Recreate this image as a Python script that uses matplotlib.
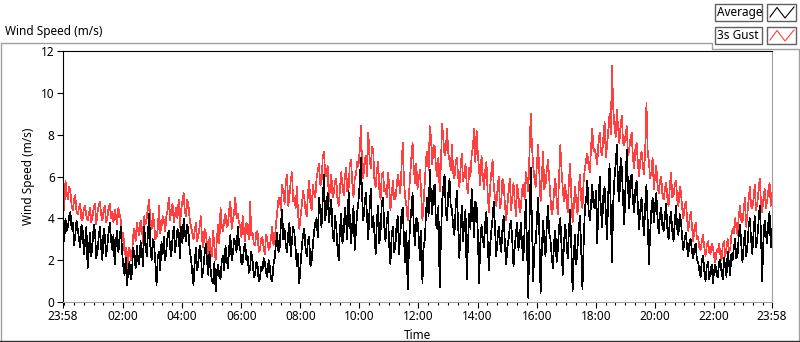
"""Wind speed chart: average and 3 s gust over one day (LabVIEW style)."""
import matplotlib
matplotlib.use("Agg")
import matplotlib.pyplot as plt
from matplotlib.lines import Line2D
from matplotlib.patches import Rectangle
import numpy as np

# 2.5-minute samples starting at 23:58 (m/s)
avg = [
    # 23:58 - 02:00
    3.3, 2.9, 4.0, 3.4, 3.6, 4.1, 4.3, 3.5, 3.8, 2.7, 3.2, 3.9, 3.5, 3.0, 2.6, 3.7,
    3.4, 2.3, 2.9, 3.6, 1.6, 2.5, 3.3, 2.2, 2.8, 3.7, 3.4, 2.1, 2.4, 3.1, 3.6, 2.6,
    2.0, 3.5, 3.2, 2.2, 2.7, 3.3, 3.8, 3.0, 2.5, 3.2, 1.8, 2.9, 3.4, 2.4, 3.0, 3.6,
    # 02:00 - 04:00
    2.4, 1.7, 1.3, 2.1, 0.8, 1.5, 1.9, 1.1, 1.4, 2.6, 2.3, 1.6, 2.7, 2.0, 1.8, 2.9,
    2.5, 1.7, 3.6, 2.8, 2.2, 3.3, 4.2, 2.6, 2.0, 3.0, 2.8, 1.9, 0.8, 2.2, 2.4, 1.5,
    2.9, 2.3, 3.1, 2.0, 2.5, 3.2, 3.4, 2.6, 2.2, 3.1, 3.6, 2.4, 2.9, 3.5, 3.3, 2.1,
    # 04:00 - 06:00
    3.6, 2.8, 4.0, 3.3, 2.9, 3.7, 3.3, 2.4, 2.1, 1.4, 0.8, 1.9, 2.6, 1.5, 1.9, 2.7,
    2.4, 1.2, 1.6, 2.3, 2.8, 2.0, 1.3, 2.4, 1.5, 1.0, 0.9, 1.9, 0.5, 1.4, 1.8, 1.2,
    1.1, 2.0, 2.2, 1.5, 2.7, 2.1, 1.6, 2.6, 3.2, 2.0, 2.3, 3.0, 2.9, 2.4, 3.6, 2.8,
    # 06:00 - 08:00
    2.5, 1.8, 1.9, 2.6, 2.8, 2.0, 2.2, 1.4, 1.6, 2.4, 2.0, 1.2, 1.3, 1.9, 1.8, 1.0,
    1.1, 1.7, 1.5, 2.1, 1.9, 1.4, 1.2, 2.0, 1.7, 1.1, 1.0, 1.8, 2.1, 2.8, 3.3, 2.4,
    2.6, 3.7, 4.4, 3.0, 3.5, 2.7, 2.4, 3.3, 3.8, 2.2, 2.9, 3.6, 3.3, 2.5, 1.7, 2.3,
    # 08:00 - 10:00
    0.9, 1.8, 2.6, 3.2, 3.5, 2.6, 2.2, 2.9, 3.1, 1.7, 2.0, 2.7, 3.4, 3.8, 4.0, 3.1,
    5.0, 4.3, 3.6, 4.8, 6.1, 3.9, 4.5, 5.2, 3.8, 4.4, 4.9, 3.3, 2.9, 4.1, 3.6, 2.6,
    2.0, 3.5, 4.2, 2.8, 3.3, 4.5, 3.9, 3.0, 5.3, 4.1, 2.8, 3.7, 4.6, 2.5, 3.4, 4.3,
    # 10:00 - 12:00
    4.8, 5.6, 6.9, 5.0, 3.9, 4.6, 5.2, 4.1, 3.0, 4.4, 5.4, 3.6, 4.1, 3.3, 2.3, 3.9,
    4.6, 2.8, 3.4, 4.7, 5.0, 3.6, 2.9, 3.8, 4.3, 2.7, 1.8, 3.2, 3.6, 2.4, 2.6, 3.7,
    4.1, 2.3, 3.2, 4.2, 4.5, 3.0, 1.9, 3.4, 0.6, 2.4, 3.8, 4.4, 5.2, 3.5, 2.7, 4.0,
    # 12:00 - 14:00
    3.9, 3.1, 2.0, 3.4, 0.9, 2.6, 3.0, 4.4, 5.0, 4.1, 6.3, 5.0, 4.2, 5.5, 5.6, 3.7,
    3.5, 4.6, 0.7, 2.9, 4.8, 5.5, 6.1, 4.3, 3.9, 5.2, 5.9, 4.6, 4.4, 3.6, 3.2, 4.5,
    5.3, 3.7, 2.1, 3.5, 4.6, 2.9, 3.8, 4.4, 1.1, 2.8, 4.2, 3.5, 5.4, 4.3, 3.1, 4.8,
    # 14:00 - 16:00
    4.6, 3.3, 0.9, 2.8, 3.7, 3.1, 2.6, 3.8, 4.3, 2.9, 1.5, 2.7, 3.4, 4.0, 4.8, 3.5,
    2.2, 3.0, 3.6, 2.9, 2.4, 3.5, 4.1, 2.8, 1.8, 2.6, 3.0, 3.6, 3.9, 2.9, 1.7, 2.6,
    3.3, 3.8, 2.5, 3.0, 3.8, 2.7, 2.0, 3.5, 4.9, 2.6, 0.2, 3.9, 6.4, 3.7, 1.0, 2.8,
    # 16:00 - 18:00
    2.8, 3.9, 5.0, 3.2, 0.4, 2.5, 3.9, 2.9, 2.2, 3.6, 4.6, 3.3, 3.0, 2.2, 1.6, 2.9,
    3.4, 1.9, 2.5, 3.6, 4.0, 2.6, 1.3, 2.8, 3.7, 3.0, 2.1, 3.4, 4.4, 2.6, 0.5, 2.3,
    3.2, 1.8, 2.6, 3.5, 4.1, 2.5, 0.6, 2.8, 4.5, 4.9, 5.8, 4.4, 3.9, 4.7, 5.6, 4.6,
    # 18:00 - 20:00
    4.5, 5.3, 2.8, 4.6, 6.0, 4.4, 3.6, 5.1, 5.5, 4.2, 3.0, 5.2, 6.6, 4.5, 1.9, 4.7,
    5.9, 6.6, 7.5, 5.4, 4.8, 6.9, 6.4, 4.9, 3.7, 5.6, 7.3, 5.5, 4.5, 5.9, 6.1, 4.9,
    4.3, 5.4, 5.8, 4.6, 3.5, 4.4, 5.0, 4.0, 3.2, 4.6, 5.6, 3.9, 1.8, 3.3, 4.4, 5.0,
    # 20:00 - 22:00
    3.8, 4.6, 5.2, 4.0, 3.3, 4.2, 4.5, 3.6, 3.4, 4.1, 4.7, 3.5, 3.0, 3.9, 4.3, 3.4,
    2.9, 3.8, 4.6, 3.5, 3.2, 4.2, 3.9, 3.1, 2.5, 3.0, 3.3, 2.6, 2.2, 2.9, 3.0, 2.4,
    2.1, 2.6, 2.8, 2.0, 1.9, 1.5, 1.2, 2.0, 2.2, 1.5, 1.0, 1.7, 1.9, 1.1, 1.4, 1.8,
    # 22:00 - 23:58
    0.9, 1.5, 1.8, 1.3, 1.2, 1.9, 2.0, 1.4, 1.1, 2.1, 1.7, 1.2, 2.4, 1.9, 1.3, 2.3,
    2.0, 2.6, 3.0, 2.1, 2.2, 3.2, 3.7, 2.8, 1.9, 2.7, 3.4, 2.2, 2.6, 3.6, 4.0, 3.0,
    2.3, 3.3, 4.1, 2.6, 3.0, 3.8, 4.6, 3.4, 1.0, 2.9, 3.9, 3.3, 2.8, 3.8, 4.3, 2.6,
    3.5,
]
gust = [
    # 23:58 - 02:00
    5.0, 4.4, 5.8, 5.2, 4.9, 5.5, 5.3, 4.6, 4.4, 4.9, 5.1, 4.3, 4.2, 4.5, 4.7, 3.9,
    4.0, 4.5, 4.6, 4.1, 3.9, 4.2, 4.5, 3.8, 4.1, 4.5, 4.7, 3.7, 4.3, 4.6, 4.8, 4.2,
    3.9, 4.4, 4.6, 3.8, 4.0, 4.5, 4.7, 4.0, 4.3, 3.8, 4.4, 4.1, 3.7, 4.5, 4.2, 3.9,
    # 02:00 - 04:00
    2.9, 3.3, 2.3, 2.6, 1.3, 2.4, 2.6, 2.0, 2.1, 3.2, 3.5, 2.9, 3.8, 3.4, 3.2, 3.9,
    3.6, 2.8, 4.1, 3.7, 4.0, 4.5, 4.9, 3.7, 3.5, 4.2, 3.8, 3.0, 3.1, 3.5, 4.6, 3.3,
    3.6, 4.1, 3.9, 3.4, 4.1, 4.4, 5.0, 3.9, 4.4, 4.7, 3.8, 4.2, 4.5, 4.0, 4.9, 3.6,
    # 04:00 - 06:00
    4.4, 4.8, 5.2, 4.3, 4.1, 4.9, 4.6, 3.9, 3.6, 3.3, 3.0, 3.4, 3.8, 2.9, 3.2, 3.6,
    4.1, 3.0, 2.6, 3.5, 3.3, 2.7, 2.1, 3.1, 2.5, 2.2, 3.4, 2.6, 2.0, 3.0, 3.7, 2.8,
    4.5, 3.6, 3.4, 3.9, 4.2, 3.6, 3.7, 4.4, 4.8, 3.5, 3.9, 4.3, 5.0, 4.0, 4.2, 3.8,
    # 06:00 - 08:00
    3.6, 3.1, 4.1, 3.4, 2.9, 3.8, 3.5, 3.0, 4.8, 3.2, 3.3, 2.8, 2.7, 3.3, 3.4, 2.4,
    2.5, 3.0, 3.1, 2.6, 2.3, 3.2, 3.0, 2.5, 2.6, 3.1, 3.6, 2.7, 2.9, 3.7, 4.3, 4.9,
    5.0, 4.4, 5.6, 5.2, 4.7, 5.7, 6.1, 4.6, 5.1, 5.8, 6.2, 4.8, 5.0, 4.5, 5.5, 4.2,
    # 08:00 - 10:00
    3.5, 4.1, 4.6, 5.3, 5.0, 4.4, 4.1, 5.2, 5.8, 4.7, 4.4, 5.6, 5.2, 5.0, 5.9, 6.3,
    6.6, 5.6, 5.7, 6.9, 7.2, 6.1, 6.0, 6.5, 4.8, 5.5, 6.1, 5.0, 5.2, 5.8, 5.9, 4.9,
    4.6, 5.4, 6.2, 5.6, 5.1, 6.0, 6.4, 5.3, 5.4, 6.6, 6.8, 5.7, 5.0, 5.9, 6.1, 6.7,
    # 10:00 - 12:00
    6.5, 7.2, 8.4, 6.6, 5.9, 6.8, 7.0, 6.0, 8.1, 7.0, 6.4, 7.4, 7.3, 5.8, 5.5, 6.3,
    6.7, 5.4, 4.9, 6.1, 6.2, 5.3, 5.4, 5.0, 6.2, 5.6, 4.4, 5.1, 5.8, 4.9, 4.9, 5.5,
    6.1, 5.7, 5.2, 6.4, 7.6, 5.8, 5.0, 4.6, 3.9, 5.1, 6.0, 6.9, 7.6, 6.4, 5.7, 6.6,
    # 12:00 - 14:00
    5.4, 5.9, 6.3, 5.2, 3.9, 4.8, 5.8, 6.9, 7.2, 6.3, 8.4, 7.8, 6.6, 7.5, 7.4, 6.4,
    6.0, 6.9, 5.3, 6.6, 8.5, 7.8, 7.0, 7.3, 8.3, 7.1, 6.8, 6.3, 7.5, 6.2, 5.9, 6.7,
    6.9, 6.0, 5.5, 6.4, 7.1, 5.8, 6.1, 6.6, 5.6, 5.2, 6.4, 6.0, 7.0, 7.4, 8.3, 6.7,
    # 14:00 - 16:00
    8.2, 7.1, 6.3, 5.6, 7.0, 6.1, 5.4, 6.3, 6.7, 5.2, 4.3, 5.5, 6.2, 6.8, 5.5, 5.0,
    4.6, 5.4, 6.0, 4.5, 4.8, 5.9, 5.6, 4.7, 3.9, 4.6, 5.3, 5.9, 4.4, 5.0, 5.7, 4.8,
    4.1, 5.6, 5.1, 4.3, 4.5, 5.4, 5.6, 4.9, 6.2, 5.8, 5.3, 7.1, 9.0, 7.4, 6.5, 5.9,
    # 16:00 - 18:00
    5.5, 6.6, 7.5, 6.2, 4.8, 5.9, 7.2, 5.4, 5.6, 6.3, 6.8, 5.9, 5.0, 4.2, 4.5, 5.3,
    5.9, 4.9, 4.2, 6.0, 7.5, 6.3, 5.4, 4.8, 5.6, 4.9, 4.3, 5.8, 6.6, 5.0, 3.8, 4.6,
    5.5, 4.8, 4.2, 5.4, 6.1, 4.9, 4.5, 5.8, 6.4, 6.8, 7.1, 6.5, 6.2, 7.4, 8.3, 7.2,
    # 18:00 - 20:00
    7.3, 7.0, 6.6, 7.6, 8.1, 7.2, 7.0, 7.9, 8.6, 6.9, 7.5, 8.2, 9.0, 8.0, 11.3, 9.3,
    8.4, 7.9, 9.2, 8.3, 7.6, 8.5, 8.9, 7.6, 7.5, 8.0, 8.4, 7.0, 7.3, 7.8, 8.1, 6.9,
    6.4, 7.3, 7.6, 6.7, 6.0, 6.8, 7.2, 6.6, 6.1, 7.3, 9.5, 7.2, 6.7, 5.9, 6.2, 6.9,
    # 20:00 - 22:00
    5.4, 6.0, 6.5, 5.6, 5.2, 5.8, 6.0, 5.1, 4.9, 5.4, 5.7, 5.0, 4.6, 5.5, 6.2, 5.0,
    5.1, 5.6, 5.8, 4.9, 4.6, 5.5, 5.3, 4.5, 4.0, 4.6, 4.8, 4.0, 3.4, 3.9, 4.3, 3.6,
    2.9, 3.5, 3.8, 3.0, 3.1, 2.6, 2.5, 2.9, 3.2, 2.6, 2.2, 2.7, 2.9, 2.4, 2.3, 2.8,
    # 22:00 - 23:58
    2.6, 2.2, 1.9, 2.5, 2.4, 2.8, 2.3, 2.0, 2.7, 2.9, 2.2, 2.6, 3.0, 2.4, 2.5, 3.2,
    3.5, 3.3, 4.0, 3.6, 3.2, 4.1, 4.6, 3.9, 3.8, 4.4, 5.0, 3.6, 4.2, 4.9, 5.5, 4.6,
    4.5, 4.9, 5.6, 4.4, 4.7, 5.3, 5.9, 4.8, 4.3, 4.9, 5.4, 4.5, 4.8, 5.3, 5.7, 4.6,
    5.2,
]
step_min = 2.5
tick_min = [0, 122, 242, 362, 482, 602, 722, 842, 962, 1082, 1202, 1322, 1440]
tick_lab = ["23:58", "02:00", "04:00", "06:00", "08:00", "10:00", "12:00",
            "14:00", "16:00", "18:00", "20:00", "22:00", "23:58"]

W, H = 800, 342
plt.rcParams["font.family"] = ["Noto Sans", "DejaVu Sans"]
fig = plt.figure(figsize=(W / 100, H / 100), dpi=100)


def px(x, y):
    return x / W, 1 - y / H


ax = fig.add_axes([63 / W, 1 - 302 / H, (772 - 63) / W, (302 - 51) / H])
t_avg = np.arange(len(avg)) * step_min
t_gust = np.arange(len(gust)) * step_min
# LabVIEW draws plain 1-pixel lines, so no antialiasing
ax.plot(t_gust, gust, color="#ff4040", lw=0.5, antialiased=False)
ax.plot(t_avg, avg, color="black", lw=0.5, antialiased=False)

ax.set_xlim(0, 1440)
ax.set_ylim(0, 12)
ax.set_xticks(tick_min)
ax.set_xticklabels(tick_lab)
ax.set_xticks(np.arange(2, 1440, 20), minor=True)
ax.set_yticks(range(0, 13, 2))
ax.tick_params(axis="both", which="major", length=4, width=0.8, labelsize=8.5,
               colors="black", pad=2)
ax.tick_params(axis="x", which="minor", length=2.5, width=0.8)
ax.set_xlabel("Time", fontsize=8.5, labelpad=4)
ax.set_ylabel("Wind Speed (m/s)", fontsize=8.5, labelpad=4)
for s in ("top", "left"):
    ax.spines[s].set_color("black")
for s in ("right", "bottom"):
    ax.spines[s].set_color("#a0a0a0")

# outer chart frame
frame = [(0.5, 341), (0.5, 42.5), (712, 42.5), (712, 49), (799, 49), (799, 341)]
xs, ys = zip(*[px(*p) for p in frame])
fig.add_artist(Line2D(xs, ys, color="#a0a0a0", lw=1))
fig.add_artist(Line2D([0, 1], [px(0, 341)[1]] * 2, color="#303030", lw=1))

fig.text(*px(5, 32), "Wind Speed (m/s)", fontsize=8.5, va="center", ha="left")

# legend boxes
for (name, col, y0) in [("Average", "black", 4), ("3s Gust", "#ff4040", 27)]:
    bx, by = px(715, y0 + 17)
    fig.add_artist(Rectangle((bx, by), 47 / W, 17 / H, transform=fig.transFigure,
                             fc="white", ec="#606060", lw=1))
    fig.text(*px(717, y0 + 8.5), name, fontsize=8.5, va="center", ha="left")
    sx, sy = px(767, y0 + 17)
    fig.add_artist(Rectangle((sx, sy), 29 / W, 17 / H, transform=fig.transFigure,
                             fc="white", ec="#606060", lw=1))
    zz = [(770, y0 + 13), (777, y0 + 3.5), (785, y0 + 14), (794, y0 + 3)]
    zx, zy = zip(*[px(*p) for p in zz])
    fig.add_artist(Line2D(zx, zy, color=col, lw=0.8))

fig.savefig("out.png", dpi=100)
